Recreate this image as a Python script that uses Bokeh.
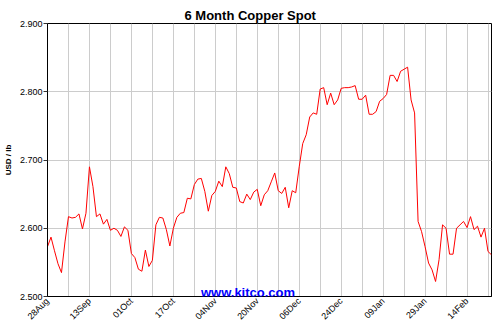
from math import pi
from bokeh.plotting import figure
from bokeh.models import FixedTicker, Label, Range1d, PrintfTickFormatter
from bokeh.embed import file_html
from bokeh.resources import INLINE

# 6 month copper spot, USD / lb, one value per trading day
prices = [
    2.573, 2.587, 2.567, 2.548, 2.535, 2.580, 2.617, 2.615, 2.616, 2.621,
    2.599, 2.622, 2.690, 2.661, 2.617, 2.621, 2.606, 2.613, 2.597, 2.600,
    2.597, 2.588, 2.602, 2.597, 2.563, 2.557, 2.540, 2.537, 2.568, 2.544,
    2.553, 2.605, 2.616, 2.615, 2.598, 2.574, 2.600, 2.616, 2.622, 2.623,
    2.644, 2.643, 2.664, 2.672, 2.673, 2.654, 2.625, 2.648, 2.654, 2.669,
    2.661, 2.690, 2.680, 2.660, 2.659, 2.639, 2.637, 2.650, 2.642, 2.653,
    2.657, 2.633, 2.649, 2.655, 2.668, 2.681, 2.655, 2.651, 2.660, 2.630,
    2.655, 2.652, 2.690, 2.724, 2.737, 2.763, 2.769, 2.767, 2.804, 2.806,
    2.781, 2.798, 2.781, 2.788, 2.805, 2.806, 2.806, 2.807, 2.809, 2.789,
    2.789, 2.795, 2.767, 2.767, 2.771, 2.786, 2.790, 2.796, 2.824, 2.824,
    2.815, 2.830, 2.833, 2.836, 2.788, 2.769, 2.610, 2.595, 2.573, 2.549,
    2.539, 2.522, 2.554, 2.605, 2.600, 2.562, 2.562, 2.600, 2.605, 2.610,
    2.601, 2.617, 2.598, 2.603, 2.587, 2.600, 2.566, 2.561,
]
date_labels = ["28Aug", "13Sep", "01Oct", "17Oct", "04Nov", "20Nov",
               "06Dec", "24Dec", "09Jan", "29Jan", "14Feb"]
label_step = 12   # trading days between date labels
grid_step = 6     # trading days between vertical grid lines
y_ticks = [2.5, 2.6, 2.7, 2.8, 2.9]

FONT = "Liberation Sans"
days = list(range(len(prices)))
label_pos = [i * label_step for i in range(len(date_labels))]

p = figure(width=500, height=327, output_backend="svg", toolbar_location=None,
           x_range=Range1d(0, len(prices) - 1), y_range=Range1d(y_ticks[0], y_ticks[-1]),
           min_border_left=46, min_border_right=9, min_border_top=23, min_border_bottom=30)
p.title.text = "6 Month Copper Spot"
p.title.align = "left"
p.title.offset = 137
p.title.standoff = 2
p.title.text_font = FONT
p.title.text_font_size = "13px"
p.title.text_font_style = "bold"
p.title.text_color = "black"
p.background_fill_color = "white"
p.border_fill_color = "white"
p.outline_line_color = "black"
p.outline_line_width = 1

p.xgrid.ticker = FixedTicker(ticks=list(range(0, len(prices), grid_step)))
p.ygrid.ticker = FixedTicker(ticks=y_ticks)
for g in (p.xgrid, p.ygrid):
    g.grid_line_color = "#cccccc"
    g.grid_line_width = 1

xa = p.xaxis[0]
xa.ticker = FixedTicker(ticks=label_pos)
xa.major_label_overrides = {pos: lab for pos, lab in zip(label_pos, date_labels)}
xa.major_label_orientation = pi / 4
xa.axis_line_color = "black"
xa.major_tick_out = 0
xa.major_tick_in = 0
xa.minor_tick_out = 0
xa.minor_tick_in = 0
xa.major_label_standoff = 3
xa.major_label_text_font = FONT
xa.major_label_text_font_size = "9px"
xa.major_label_text_color = "black"

ya = p.yaxis[0]
ya.ticker = FixedTicker(ticks=y_ticks)
ya.formatter = PrintfTickFormatter(format="%.3f")
ya.axis_line_color = "black"
ya.major_tick_line_color = "#333333"
ya.major_tick_out = 4
ya.major_tick_in = 0
ya.minor_tick_out = 0
ya.minor_tick_in = 0
ya.major_label_standoff = 1
ya.major_label_text_font = FONT
ya.major_label_text_font_size = "9px"
ya.major_label_text_color = "black"
ya.axis_label = "USD / lb"
ya.axis_label_standoff = 4
ya.axis_label_text_font = FONT
ya.axis_label_text_font_size = "8px"
ya.axis_label_text_font_style = "bold"
ya.axis_label_text_color = "black"

p.line(days, prices, line_color="#ff0000", line_width=1)

# watermark (screen units relative to the plot frame)
p.add_layout(Label(x=200.5, y=4.5, x_units="screen", y_units="screen",
                   text="www.kitco.com", text_align="center",
                   text_baseline="alphabetic", text_font=FONT,
                   text_font_size="13px", text_font_style="bold", text_color="#0000ff"))

open("out.html", "w").write(file_html(p, INLINE))
